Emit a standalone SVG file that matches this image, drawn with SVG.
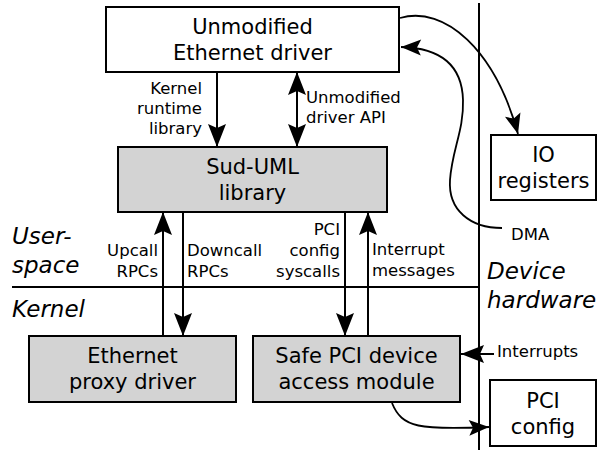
<svg xmlns="http://www.w3.org/2000/svg" width="597" height="450" viewBox="0 0 597 450">
<defs>
<style>
.box{stroke:#000;stroke-width:2}
.white{fill:#fff}
.grey{fill:#d3d3d3}
.bt{font-family:"DejaVu Sans",Verdana,sans-serif;font-size:21px;fill:#000;text-anchor:middle}
.lt{font-family:"DejaVu Sans",Verdana,sans-serif;font-size:16.5px;fill:#000}
.it{font-family:"DejaVu Sans",Verdana,sans-serif;font-size:23px;font-style:italic;fill:#000}
.ln{fill:none;stroke:#000;stroke-width:2}
.cv{fill:none;stroke:#000;stroke-width:1.8}
.end{text-anchor:end}
</style>
<marker id="ah" viewBox="-25 -11 27 22" refX="0" refY="0" markerWidth="27" markerHeight="22" markerUnits="userSpaceOnUse" orient="auto-start-reverse">
<path d="M0,0 L-23,-9 L-19,0 L-23,9 Z" fill="#000"/>
</marker>
<marker id="ahs" viewBox="-22 -10 24 20" refX="0" refY="0" markerWidth="24" markerHeight="20" markerUnits="userSpaceOnUse" orient="auto">
<path d="M0,0 L-20,-8 L-16,0 L-20,8 Z" fill="#000"/>
</marker>
</defs>
<rect width="597" height="450" fill="#fff"/>

<g id="dividers">
<line class="ln" x1="479" y1="3" x2="479" y2="450"/>
<line class="ln" x1="12" y1="287" x2="479" y2="287"/>
</g>

<g id="region-labels">
<text class="it" x="12" y="244">User-</text>
<text class="it" x="12" y="273">space</text>
<text class="it" x="12" y="317">Kernel</text>
<text class="it" x="487" y="279">Device</text>
<text class="it" x="487" y="308">hardware</text>
</g>

<g id="node-ethernet-driver">
<rect class="box white" x="106" y="7" width="293" height="65"/>
<text class="bt" x="252.5" y="34">Unmodified</text>
<text class="bt" x="252.5" y="60">Ethernet driver</text>
</g>

<g id="node-sud-uml">
<rect class="box grey" x="118" y="147" width="269" height="65"/>
<text class="bt" x="252.5" y="174">Sud-UML</text>
<text class="bt" x="252.5" y="200">library</text>
</g>

<g id="node-io-registers">
<rect class="box white" x="491" y="135" width="105" height="65"/>
<text class="bt" x="543.5" y="162">IO</text>
<text class="bt" x="543.5" y="188">registers</text>
</g>

<g id="node-ethernet-proxy">
<rect class="box grey" x="29" y="336" width="207" height="66"/>
<text class="bt" x="132.5" y="363">Ethernet</text>
<text class="bt" x="132.5" y="389">proxy driver</text>
</g>

<g id="node-safe-pci">
<rect class="box grey" x="253" y="336" width="207" height="66"/>
<text class="bt" x="356.5" y="363">Safe PCI device</text>
<text class="bt" x="356.5" y="389">access module</text>
</g>

<g id="node-pci-config">
<rect class="box white" x="490" y="380" width="106" height="66"/>
<text class="bt" x="543" y="408">PCI</text>
<text class="bt" x="543" y="434">config</text>
</g>

<g id="connectors">
<path class="ln" d="M217,72 L217,147" marker-end="url(#ah)"/>
<path class="ln" d="M297,72 L297,147" marker-start="url(#ah)" marker-end="url(#ah)"/>
<path class="ln" d="M163,336 L163,212" marker-end="url(#ah)"/>
<path class="ln" d="M183,212 L183,336" marker-end="url(#ah)"/>
<path class="ln" d="M345,212 L345,336" marker-end="url(#ah)"/>
<path class="ln" d="M368,336 L368,212" marker-end="url(#ah)"/>
<path class="ln" d="M494,354 L461,354" marker-end="url(#ah)"/>
<path class="cv" d="M400,18 C445,5 495,50 518,134" marker-end="url(#ahs)"/>
<path class="cv" d="M502,228 C470,228 448,210 450,180 C452,150 464,130 463,100 C462,65 440,48 401,47" marker-end="url(#ahs)"/>
<path class="cv" d="M392,403 C402,428 420,430 489,427" marker-end="url(#ahs)"/>
</g>

<g id="connector-labels">
<text class="lt end" x="202" y="94">Kernel</text>
<text class="lt end" x="202" y="114">runtime</text>
<text class="lt end" x="202" y="134">library</text>
<text class="lt" x="306" y="103">Unmodified</text>
<text class="lt" x="306" y="123">driver API</text>
<text class="lt end" x="158" y="256">Upcall</text>
<text class="lt end" x="158" y="277">RPCs</text>
<text class="lt" x="187" y="256">Downcall</text>
<text class="lt" x="187" y="277">RPCs</text>
<text class="lt end" x="340" y="235">PCI</text>
<text class="lt end" x="340" y="256">config</text>
<text class="lt end" x="340" y="277">syscalls</text>
<text class="lt" x="372" y="255">Interrupt</text>
<text class="lt" x="372" y="276">messages</text>
<text class="lt" x="511" y="240">DMA</text>
<text class="lt" x="497" y="357">Interrupts</text>
</g>
</svg>
